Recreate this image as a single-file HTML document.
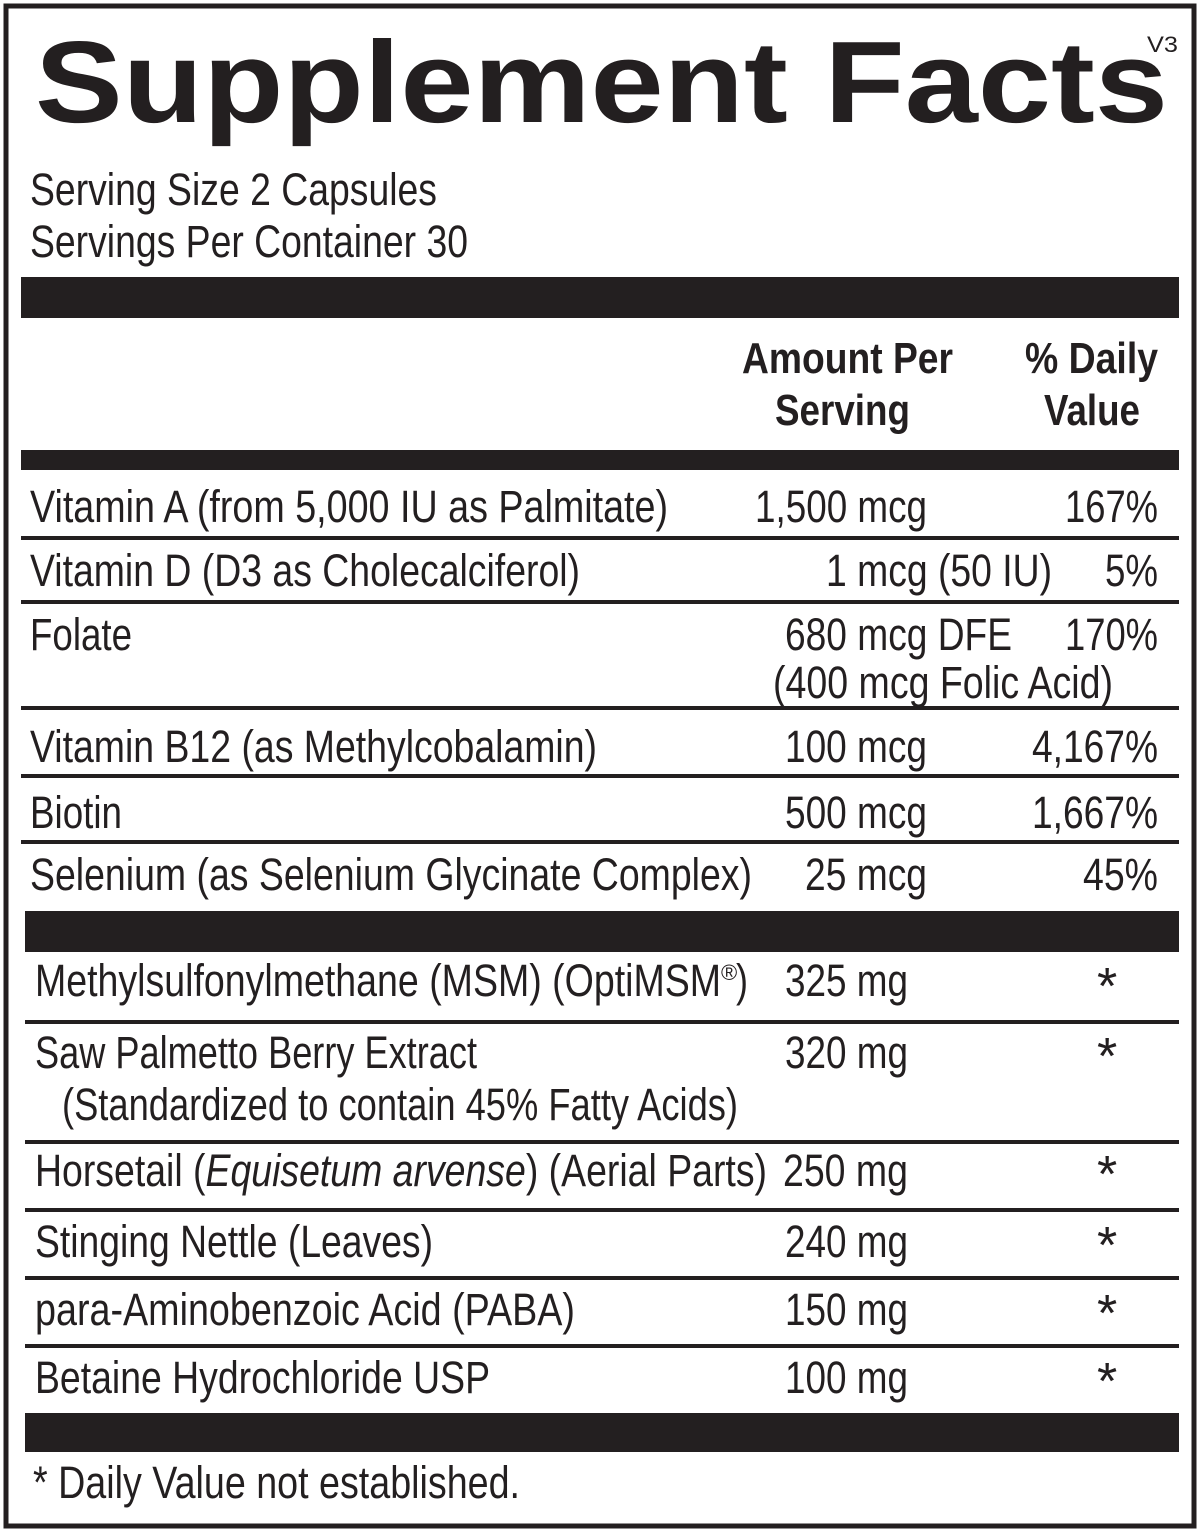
<!DOCTYPE html>
<html><head><meta charset="utf-8"><style>
html,body{margin:0;padding:0;background:#fff}
svg{display:block}
text{font-family:"Liberation Sans",Arial,sans-serif;fill:#231f20}
.b{font-size:45px}
.h{font-size:44px;font-weight:bold}
.a{font-size:52px}
</style></head><body>
<svg width="1200" height="1536" viewBox="0 0 1200 1536" xmlns="http://www.w3.org/2000/svg">
<rect x="6" y="6" width="1188" height="1520" fill="none" stroke="#231f20" stroke-width="5"/>
<text x="35" y="122" font-size="116" font-weight="bold" textLength="1133" lengthAdjust="spacingAndGlyphs">Supplement Facts</text>
<text x="1147" y="52" font-size="22" textLength="31" lengthAdjust="spacingAndGlyphs">V3</text>
<g class="b">
<text x="30" y="205" textLength="407" lengthAdjust="spacingAndGlyphs">Serving Size 2 Capsules</text>
<text x="30" y="257" textLength="438" lengthAdjust="spacingAndGlyphs">Servings Per Container 30</text>
</g>
<rect x="21" y="277" width="1158" height="41" fill="#231f20"/>
<g class="h">
<text x="742" y="373" textLength="211" lengthAdjust="spacingAndGlyphs">Amount Per</text>
<text x="775" y="425" textLength="135" lengthAdjust="spacingAndGlyphs">Serving</text>
<text x="1025" y="373" textLength="133" lengthAdjust="spacingAndGlyphs">% Daily</text>
<text x="1044" y="425" textLength="96" lengthAdjust="spacingAndGlyphs">Value</text>
</g>
<rect x="21" y="450" width="1158" height="20" fill="#231f20"/>
<g fill="#231f20">
<rect x="21" y="536" width="1158" height="4"/>
<rect x="21" y="600" width="1158" height="4"/>
<rect x="21" y="706" width="1158" height="4"/>
<rect x="21" y="774" width="1158" height="4"/>
<rect x="21" y="840" width="1158" height="4"/>
<rect x="25" y="911" width="1154" height="41"/>
<rect x="25" y="1020" width="1154" height="4"/>
<rect x="25" y="1140" width="1154" height="4"/>
<rect x="25" y="1208" width="1154" height="4"/>
<rect x="25" y="1276" width="1154" height="4"/>
<rect x="25" y="1344" width="1154" height="4"/>
<rect x="25" y="1413" width="1154" height="39"/>
</g>
<g class="b">
<text x="30" y="522" textLength="638" lengthAdjust="spacingAndGlyphs">Vitamin A (from 5,000 IU as Palmitate)</text>
<text x="755" y="522" textLength="172" lengthAdjust="spacingAndGlyphs">1,500 mcg</text>
<text x="1065" y="522" textLength="93" lengthAdjust="spacingAndGlyphs">167%</text>

<text x="30" y="586" textLength="550" lengthAdjust="spacingAndGlyphs">Vitamin D (D3 as Cholecalciferol)</text>
<text x="826" y="586" textLength="226" lengthAdjust="spacingAndGlyphs">1 mcg (50 IU)</text>
<text x="1105" y="586" textLength="53" lengthAdjust="spacingAndGlyphs">5%</text>

<text x="30" y="650" textLength="102" lengthAdjust="spacingAndGlyphs">Folate</text>
<text x="785" y="650" textLength="227" lengthAdjust="spacingAndGlyphs">680 mcg DFE</text>
<text x="1065" y="650" textLength="93" lengthAdjust="spacingAndGlyphs">170%</text>
<text x="773" y="698" textLength="340" lengthAdjust="spacingAndGlyphs">(400 mcg Folic Acid)</text>

<text x="30" y="762" textLength="567" lengthAdjust="spacingAndGlyphs">Vitamin B12 (as Methylcobalamin)</text>
<text x="785" y="762" textLength="142" lengthAdjust="spacingAndGlyphs">100 mcg</text>
<text x="1032" y="762" textLength="126" lengthAdjust="spacingAndGlyphs">4,167%</text>

<text x="30" y="828" textLength="92" lengthAdjust="spacingAndGlyphs">Biotin</text>
<text x="785" y="828" textLength="142" lengthAdjust="spacingAndGlyphs">500 mcg</text>
<text x="1032" y="828" textLength="126" lengthAdjust="spacingAndGlyphs">1,667%</text>

<text x="30" y="890" textLength="722" lengthAdjust="spacingAndGlyphs">Selenium (as Selenium Glycinate Complex)</text>
<text x="805" y="890" textLength="122" lengthAdjust="spacingAndGlyphs">25 mcg</text>
<text x="1083" y="890" textLength="75" lengthAdjust="spacingAndGlyphs">45%</text>

<text x="35" y="996" textLength="686" lengthAdjust="spacingAndGlyphs">Methylsulfonylmethane (MSM) (OptiMSM</text>
<text x="721" y="980" font-size="22">®</text>
<text x="736" y="996" textLength="12" lengthAdjust="spacingAndGlyphs">)</text>
<text x="785" y="996" textLength="123" lengthAdjust="spacingAndGlyphs">325 mg</text>

<text x="35" y="1068" textLength="442" lengthAdjust="spacingAndGlyphs">Saw Palmetto Berry Extract</text>
<text x="62" y="1120" textLength="676" lengthAdjust="spacingAndGlyphs">(Standardized to contain 45% Fatty Acids)</text>
<text x="785" y="1068" textLength="123" lengthAdjust="spacingAndGlyphs">320 mg</text>

<text x="35" y="1186" textLength="732" lengthAdjust="spacingAndGlyphs">Horsetail (<tspan font-style="italic">Equisetum arvense</tspan>) (Aerial Parts)</text>
<text x="783" y="1186" textLength="125" lengthAdjust="spacingAndGlyphs">250 mg</text>

<text x="35" y="1257" textLength="398" lengthAdjust="spacingAndGlyphs">Stinging Nettle (Leaves)</text>
<text x="785" y="1257" textLength="123" lengthAdjust="spacingAndGlyphs">240 mg</text>

<text x="35" y="1325" textLength="540" lengthAdjust="spacingAndGlyphs">para-Aminobenzoic Acid (PABA)</text>
<text x="785" y="1325" textLength="123" lengthAdjust="spacingAndGlyphs">150 mg</text>

<text x="35" y="1393" textLength="455" lengthAdjust="spacingAndGlyphs">Betaine Hydrochloride USP</text>
<text x="785" y="1393" textLength="123" lengthAdjust="spacingAndGlyphs">100 mg</text>

<text x="33" y="1498" textLength="487" lengthAdjust="spacingAndGlyphs">* Daily Value not established.</text>
</g>
<g class="a">
<text x="1097" y="1004">*</text>
<text x="1097" y="1074">*</text>
<text x="1097" y="1192">*</text>
<text x="1097" y="1263">*</text>
<text x="1097" y="1331">*</text>
<text x="1097" y="1399">*</text>
</g>
</svg>
</body></html>
